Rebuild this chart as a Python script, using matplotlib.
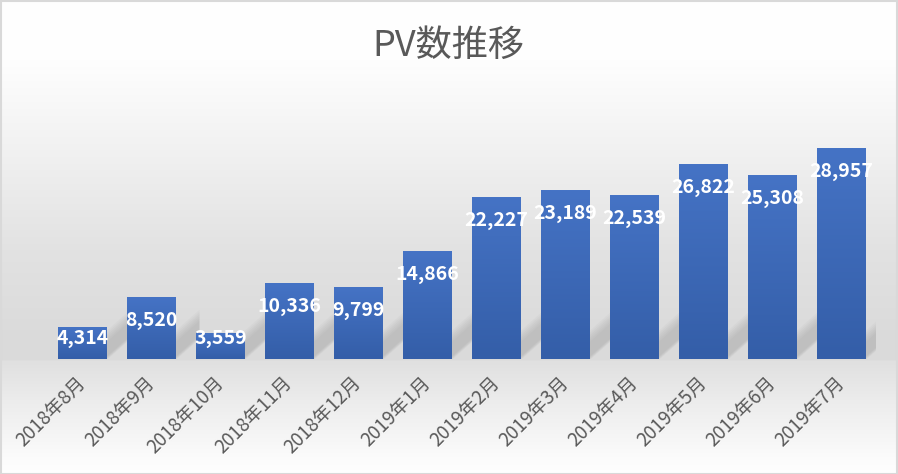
import numpy as np
import matplotlib
matplotlib.use("Agg")
import matplotlib.pyplot as plt
from matplotlib.colors import LinearSegmentedColormap
from matplotlib.patches import Polygon, Rectangle

plt.rcParams['font.family'] = ['Noto Sans CJK JP', 'DejaVu Sans']

# donnees du graphique
months = ['2018年8月', '2018年9月', '2018年10月', '2018年11月', '2018年12月', '2019年1月',
          '2019年2月', '2019年3月', '2019年4月', '2019年5月', '2019年6月', '2019年7月']
pv = [4314, 8520, 3559, 10336, 9799, 14866, 22227, 23189, 22539, 26822, 25308, 28957]

W, H = 898, 474
fig = plt.figure(figsize=(W / 100, H / 100), dpi=100)

# fond en degrade (haut blanc -> gris -> blanc en bas)
bg = fig.add_axes([0, 0, 1, 1], zorder=-10)
rows = np.arange(H)
stops_y = [0, 60, 150, 250, 330, 359, 361, 400, 460, H]
stops_v = [255, 254, 241, 226, 219, 218, 224, 236, 252, 255]
g = np.interp(rows, stops_y, stops_v) / 255.0
img = np.repeat(g[:, None], 2, axis=1)
bg.imshow(np.dstack([img, img, img]), aspect='auto', extent=[0, 1, 0, 1], origin='upper')
bg.set_axis_off()
fig.patches.append(Rectangle((0.001, 0.001), 0.998, 0.997, transform=fig.transFigure,
                             fill=False, edgecolor='#d9d9d9', linewidth=1.5))

ax = fig.add_axes([48 / W, 115 / H, 828 / W, 254 / H])
ax.set_facecolor('none')
ymax = 35000
bw = 0.71
x = np.arange(len(months))
px = ymax / 254.0  # valeur par pixel

# degrade des barres
cmap = LinearSegmentedColormap.from_list('bar', ['#345ea8', '#4573c5'])
grad = np.linspace(1, 0, 100)[:, None]

for i, v in enumerate(pv):
    # ombre floue a droite de la barre
    xr = i + bw / 2
    gap = 1 - bw
    for k in range(6):
        t = (k + 1) * 2.2
        poly = Polygon([(xr - 0.02, (2 - t * 0.3) * px), (xr + gap + 0.05, (24 - t * 0.3) * px),
                        (xr + gap + 0.05, (36 + t) * px), (xr - 0.02, (14 + t) * px)],
                       closed=True, facecolor='#808080', edgecolor='none', alpha=0.05, zorder=1)
        ax.add_patch(poly)
    ax.imshow(grad, cmap=cmap, aspect='auto', extent=[i - bw / 2, i + bw / 2, 0, v],
              zorder=3, interpolation='bilinear')
    hpx = v / px
    off = min(23, hpx - 21)
    ax.annotate(f'{v:,}', (i, v), xytext=(0, -off), textcoords='offset pixels',
                ha='center', va='center', color='white', fontsize=14, fontweight='bold', zorder=5)

ax.set_xlim(-0.5, len(months) - 0.5)
ax.set_ylim(0, ymax)
for s in ax.spines.values():
    s.set_visible(False)
ax.set_yticks([])
ax.set_xticks(x)
ax.set_xticklabels(months, rotation=45, ha='right', va='center', rotation_mode='anchor',
                   fontsize=13.5, color='#595959')
ax.tick_params(axis='x', length=0, pad=15)

fig.text(448 / W, 1 - 46 / H, 'PV数推移', ha='center', va='center', fontsize=26, color='#595959')

fig.savefig('out.png', dpi=100)
